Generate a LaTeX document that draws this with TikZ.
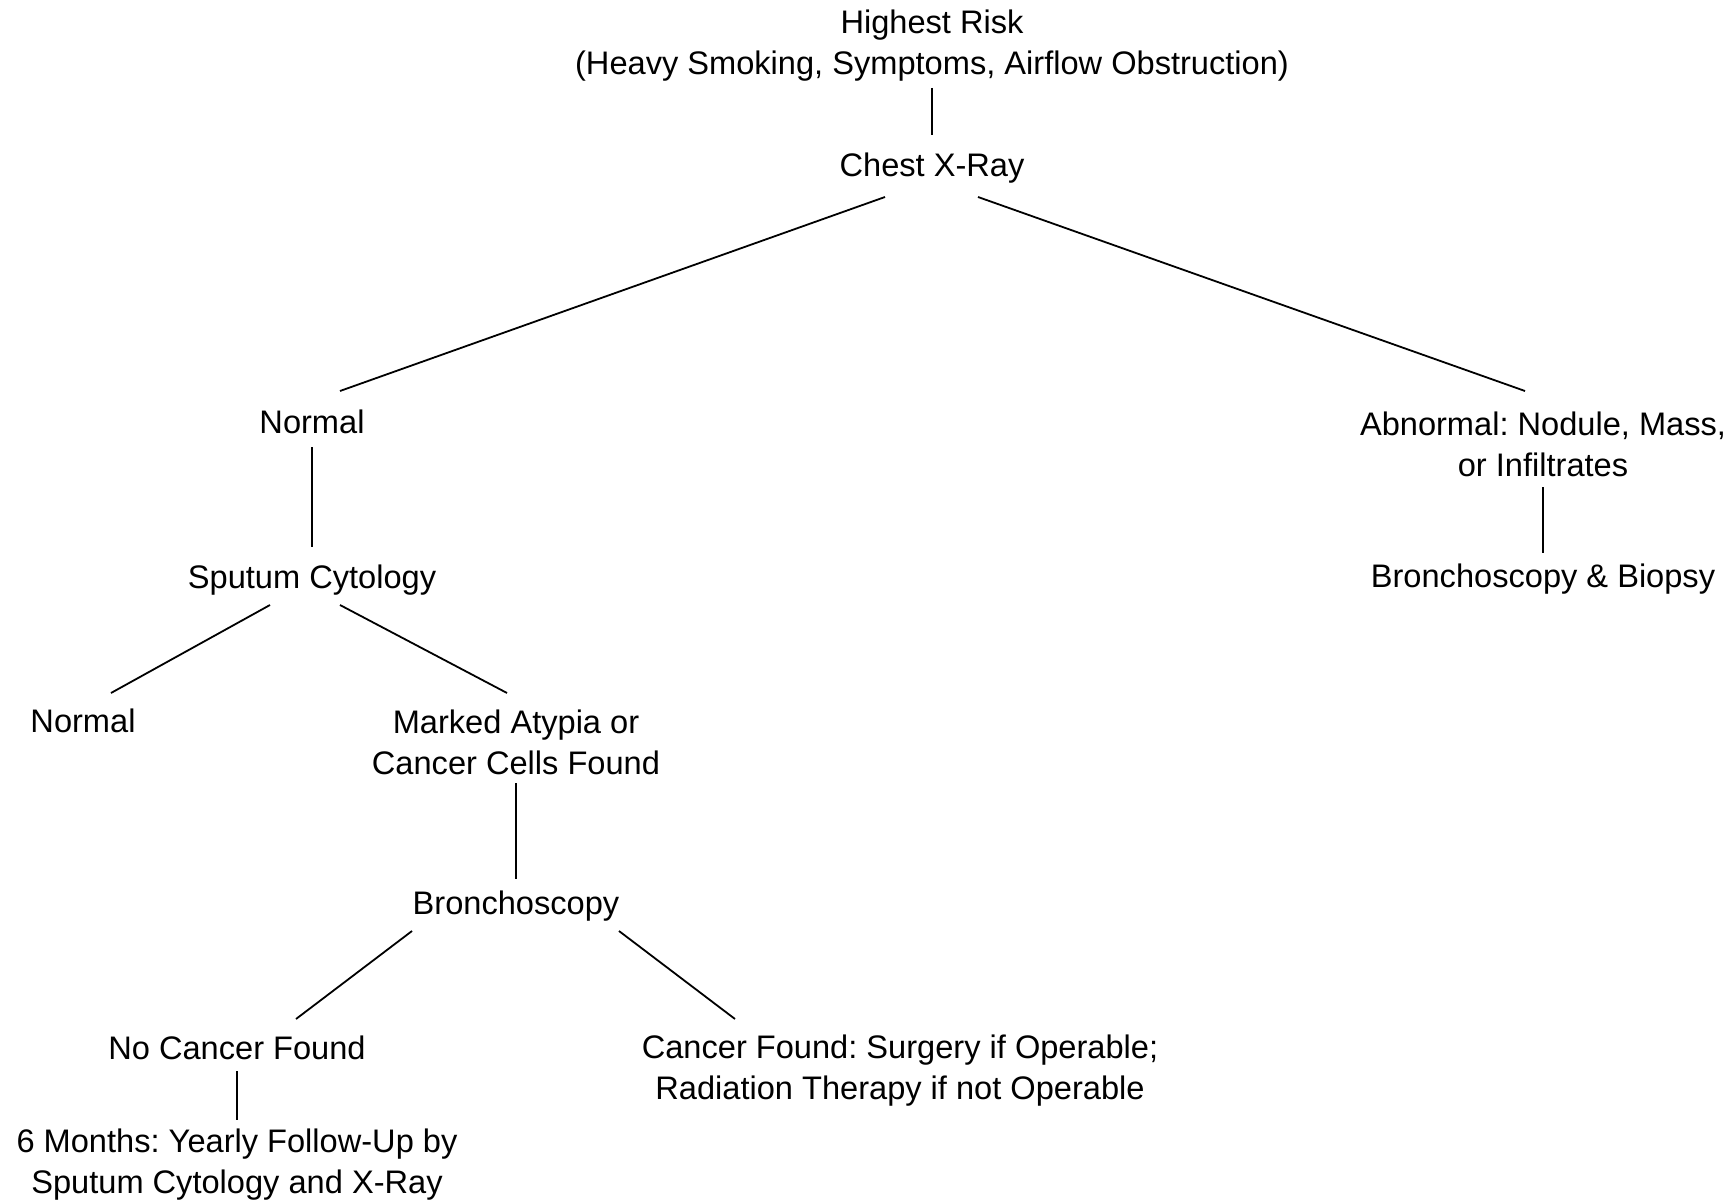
\documentclass[tikz,border=0pt]{standalone}
\usepackage{fontspec}
\setmainfont{Liberation Sans}
\frenchspacing
\begin{document}
\begin{tikzpicture}[x=0.5pt,y=-0.5pt,
  lbl/.style={inner sep=0pt, outer sep=0pt, align=center, font=\frenchspacing\fontsize{16.3}{20.5}\selectfont},
  one/.style={lbl, text height=0.75em, text depth=0.25em},
  conn/.style={line width=0.9pt, black}]
\useasboundingbox (0,0) rectangle (1734,1203);
\node[lbl] (hr) at (932,46) {Highest Risk\\(Heavy Smoking, Symptoms, Airflow Obstruction)};
\node[one] (cxr) at (932,172) {Chest X-Ray};
\node[one] (nrm) at (312,428) {Normal};
\node[lbl] (abn) at (1543,444) {Abnormal: Nodule, Mass,\\or Infiltrates};
\node[one] (bb) at (1543,582) {Bronchoscopy \& Biopsy};
\node[one] (spc) at (312,583) {Sputum Cytology};
\node[one] (nrm2) at (83,727) {Normal};
\node[lbl] (mark) at (516,742) {Marked Atypia or\\Cancer Cells Found};
\node[one] (bron) at (516,909) {Bronchoscopy};
\node[one] (ncf) at (237,1054) {No Cancer Found};
\node[lbl] (cf) at (900,1071) {Cancer Found: Surgery if Operable;\\Radiation Therapy if not Operable};
\node[lbl] (six) at (237,1165) {6 Months: Yearly Follow-Up by\\Sputum Cytology and X-Ray};
\draw[conn] ([shift={(0,42)}]hr.center) -- ([shift={(0,-37)}]cxr.center);
\draw[conn] ([shift={(-47,25)}]cxr.center) -- ([shift={(28,-37)}]nrm.center);
\draw[conn] ([shift={(46,25)}]cxr.center) -- ([shift={(-18,-53)}]abn.center);
\draw[conn] ([shift={(0,19)}]nrm.center) -- ([shift={(0,-36)}]spc.center);
\draw[conn] ([shift={(0,43)}]abn.center) -- ([shift={(0,-29)}]bb.center);
\draw[conn] ([shift={(-42,22)}]spc.center) -- ([shift={(28,-34)}]nrm2.center);
\draw[conn] ([shift={(28,22)}]spc.center) -- ([shift={(-9,-49)}]mark.center);
\draw[conn] ([shift={(0,41)}]mark.center) -- ([shift={(0,-30)}]bron.center);
\draw[conn] ([shift={(-104,22)}]bron.center) -- ([shift={(59,-35)}]ncf.center);
\draw[conn] ([shift={(103,22)}]bron.center) -- ([shift={(-165,-52)}]cf.center);
\draw[conn] ([shift={(0,17)}]ncf.center) -- ([shift={(0,-45)}]six.center);
\end{tikzpicture}
\end{document}
